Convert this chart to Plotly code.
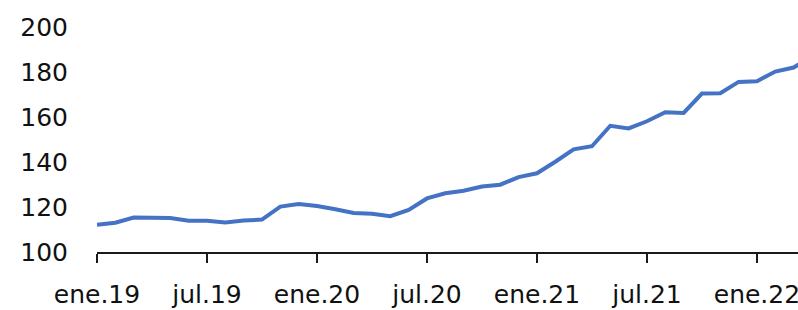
import plotly.graph_objects as go

month_names = ["ene", "feb", "mar", "abr", "may", "jun", "jul", "ago", "sep", "oct", "nov", "dic"]
years = ["19", "20", "21", "22"]
categories = [f"{m}.{y}" for y in years for m in month_names][:40]

values = [
    112.1, 113.0, 115.3, 115.2, 115.1, 113.9, 113.9, 113.1, 114.0, 114.4, 120.2, 121.3,
    120.4, 119.0, 117.3, 117.0, 115.9, 118.7, 123.8, 126.1, 127.2, 129.1, 129.9, 133.3,
    135.0, 140.1, 145.6, 147.0, 156.1, 154.9, 158.1, 162.1, 161.8, 170.4, 170.6, 175.6,
    175.9, 180.2, 182.0, 187.0,
]

tick_positions = list(range(0, 37, 6))
tick_labels = [categories[i] for i in tick_positions]
y_ticks = [100, 120, 140, 160, 180, 200]

x_idx = list(range(len(values)))

fig = go.Figure()
fig.add_trace(go.Scatter(
    x=x_idx, y=values, mode="lines",
    line=dict(color="#4472C4", width=4),
    hoverinfo="skip",
))

font_family = "DejaVu Sans"
fig.update_layout(
    width=798, height=310,
    margin=dict(l=97, r=0, t=27, b=58, autoexpand=False),
    paper_bgcolor="white", plot_bgcolor="white",
    showlegend=False,
    font=dict(family=font_family, size=25, color="#111111"),
)
fig.update_xaxes(
    range=[0, 38.24],
    tickmode="array", tickvals=tick_positions, ticktext=tick_labels,
    showgrid=False, zeroline=False,
    showline=True, linecolor="#1a1a1a", linewidth=2,
    ticks="outside", ticklen=9, tickwidth=2, tickcolor="#1a1a1a",
    ticklabelstandoff=10, ticklabeloverflow="allow",
    automargin=False,
)
fig.update_yaxes(
    range=[100, 200],
    tickmode="array", tickvals=y_ticks,
    showgrid=False, zeroline=False, showline=False,
    ticks="", ticklabelstandoff=28,
    automargin=False,
)

fig.write_html(
    "out.html",
    config={"displayModeBar": False},
    post_script="document.body.style.margin='0';document.body.style.overflow='hidden';",
)
